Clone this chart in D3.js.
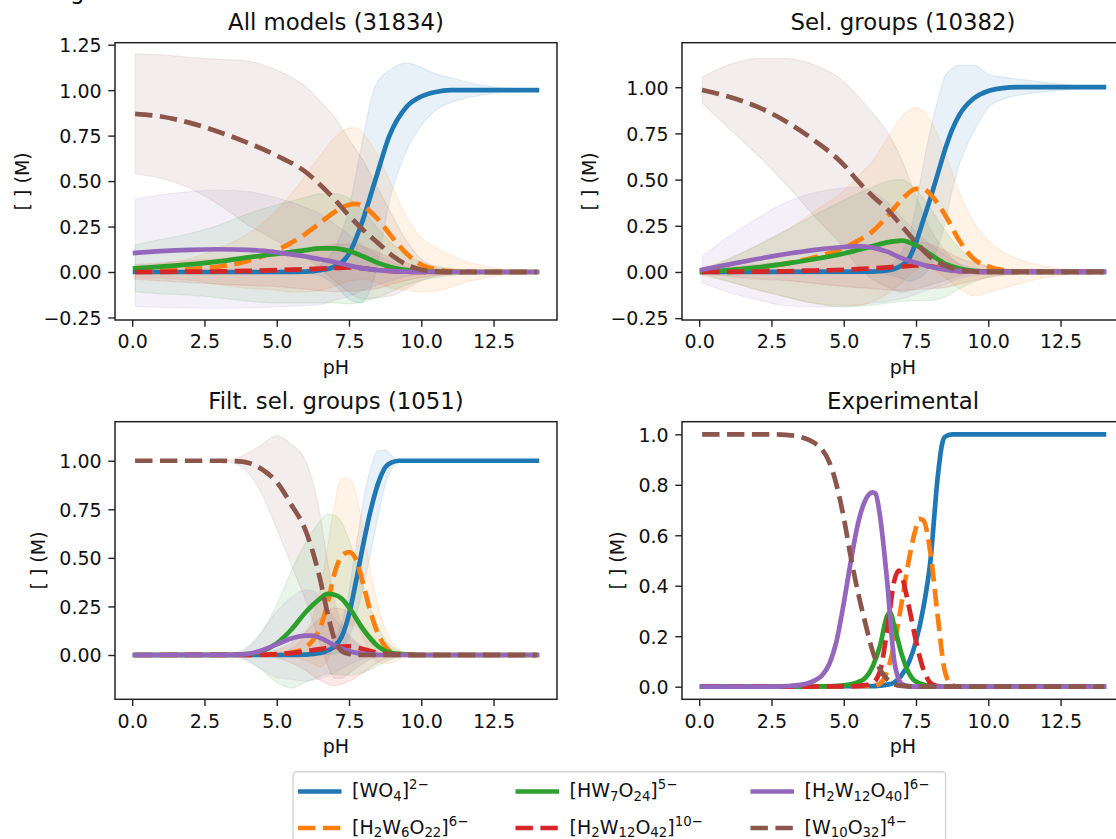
<!DOCTYPE html>
<html>
<head>
<meta charset="utf-8">
<script src="https://cdn.jsdelivr.net/npm/d3@7"></script>
<style>
body { margin: 0; background: #fff; }
svg { display: block; font-family: "DejaVu Sans", sans-serif; }
</style>
</head>
<body>
<svg width="1116" height="839"></svg>
<script>
// species, in plotting / legend order
const species = [
    "[WO_{4}]^{2−}",
    "[H_{2}W_{6}O_{22}]^{6−}",
    "[HW_{7}O_{24}]^{5−}",
    "[H_{2}W_{12}O_{42}]^{10−}",
    "[H_{2}W_{12}O_{40}]^{6−}",
    "[W_{10}O_{32}]^{4−}"
];
const colors = ["#1f77b4", "#ff7f0e", "#2ca02c", "#d62728", "#9467bd", "#8c564b"];
const dashed = [false, true, false, true, false, true];

const titles = ["All models (31834)", "Sel. groups (10382)", "Filt. sel. groups (1051)", "Experimental"];
const xTicks = [0, 2.5, 5, 7.5, 10, 12.5];
const yTicksModel = [-0.25, 0, 0.25, 0.5, 0.75, 1, 1.25];
const yTicksExp = [0, 0.2, 0.4, 0.6, 0.8, 1.0];

// [pH, mean, sd]  -- All models
const allWO4 = [[0.1,0,0],[5,0,0.003],[6,0.002,0.01],[6.5,0.01,0.03],[7,0.03,0.1],[7.5,0.1,0.25],[7.9,0.25,0.42],[8.4,0.5,0.52],[8.9,0.75,0.36],[9.5,0.91,0.24],[10,0.965,0.16],[10.5,0.99,0.1],[11,1,0.07],[12,1,0.03],[13,1,0.01],[14,1,0.005]];
const allH2W6 = [[0.1,0,0.03],[1,0.005,0.04],[2,0.015,0.06],[3,0.03,0.1],[4,0.06,0.15],[5,0.12,0.22],[5.5,0.16,0.27],[6,0.21,0.32],[6.5,0.27,0.37],[7,0.33,0.41],[7.5,0.37,0.42],[7.75,0.375,0.42],[8,0.36,0.4],[8.5,0.29,0.35],[9,0.19,0.28],[9.5,0.1,0.2],[10,0.04,0.15],[10.5,0.015,0.12],[11,0.005,0.09],[11.5,0.002,0.06],[12,0,0.04],[13,0,0.015],[14,0,0.005]];
const allHW7 = [[0.1,0.02,0.13],[1,0.03,0.15],[2,0.042,0.17],[3,0.058,0.2],[4,0.08,0.24],[5,0.1,0.27],[6,0.12,0.29],[6.5,0.13,0.3],[7,0.13,0.3],[7.5,0.115,0.29],[8,0.085,0.25],[8.5,0.05,0.19],[9,0.025,0.13],[9.5,0.01,0.08],[10,0.004,0.05],[11,0,0.02],[12,0,0.005],[14,0,0]];
const allH2W12O42 = [[0.1,0,0.04],[2,0.002,0.06],[3,0.003,0.07],[4,0.006,0.08],[5,0.01,0.09],[6,0.015,0.11],[7,0.022,0.13],[7.5,0.025,0.13],[8,0.02,0.12],[8.5,0.01,0.1],[9,0.004,0.07],[10,0,0.03],[11,0,0.01],[12,0,0.003],[14,0,0]];
const allH2W12O40 = [[0.1,0.105,0.295],[1,0.115,0.31],[2,0.122,0.32],[3,0.125,0.325],[4,0.122,0.32],[5,0.108,0.3],[6,0.085,0.27],[6.5,0.07,0.25],[7,0.055,0.21],[7.5,0.035,0.17],[8,0.02,0.12],[8.5,0.01,0.08],[9,0.005,0.05],[9.5,0.002,0.025],[10,0,0.01],[11,0,0.003],[14,0,0]];
const allW10 = [[0.1,0.87,0.33],[1,0.855,0.34],[2,0.82,0.36],[3,0.77,0.4],[4,0.71,0.45],[5,0.64,0.47],[6,0.55,0.47],[6.5,0.48,0.46],[7,0.4,0.45],[7.5,0.31,0.42],[8,0.23,0.38],[8.5,0.16,0.3],[9,0.09,0.22],[9.5,0.04,0.13],[10,0.012,0.06],[10.5,0.003,0.025],[11,0,0.01],[12,0,0.002],[14,0,0]];

// Sel. groups
const selWO4 = [[0.1,0,0],[6,0.002,0.005],[6.5,0.008,0.02],[7,0.035,0.07],[7.25,0.07,0.12],[7.5,0.16,0.2],[7.75,0.28,0.3],[8,0.4,0.37],[8.25,0.53,0.4],[8.5,0.66,0.4],[8.75,0.77,0.33],[9,0.85,0.27],[9.5,0.94,0.18],[10,0.98,0.09],[10.5,0.995,0.06],[11,1,0.045],[12,1,0.025],[13,1,0.01],[14,1,0.005]];
const selH2W6 = [[0.1,0,0.02],[1,0.008,0.06],[2,0.022,0.12],[3,0.045,0.18],[4,0.08,0.25],[5,0.13,0.31],[5.5,0.17,0.35],[6,0.22,0.38],[6.5,0.3,0.42],[7,0.39,0.45],[7.5,0.45,0.44],[7.75,0.45,0.42],[8,0.42,0.4],[8.5,0.31,0.34],[9,0.17,0.26],[9.5,0.07,0.2],[10,0.03,0.14],[10.5,0.01,0.1],[11,0.003,0.07],[12,0,0.03],[13,0,0.01],[14,0,0.005]];
const selHW7 = [[0.1,0,0.01],[1,0.01,0.06],[2,0.025,0.12],[3,0.045,0.18],[4,0.07,0.24],[5,0.1,0.29],[6,0.14,0.32],[6.5,0.16,0.33],[7,0.17,0.33],[7.5,0.145,0.3],[8,0.095,0.25],[8.5,0.045,0.18],[9,0.018,0.11],[9.5,0.006,0.06],[10,0.002,0.03],[11,0,0.01],[12,0,0.003],[14,0,0]];
const selH2W12O42 = [[0.1,0,0.005],[2,0.002,0.04],[3,0.004,0.05],[4,0.008,0.07],[5,0.012,0.09],[6,0.02,0.11],[7,0.03,0.13],[7.5,0.035,0.13],[8,0.03,0.12],[8.5,0.015,0.1],[9,0.005,0.07],[10,0,0.03],[11,0,0.01],[12,0,0.003],[14,0,0]];
const selH2W12O40 = [[0.1,0.012,0.07],[1,0.04,0.15],[2,0.07,0.22],[3,0.097,0.28],[4,0.12,0.31],[5,0.135,0.32],[5.5,0.14,0.32],[6,0.132,0.3],[6.5,0.11,0.27],[7,0.075,0.22],[7.5,0.05,0.17],[8,0.028,0.12],[8.5,0.012,0.08],[9,0.005,0.04],[9.5,0.002,0.02],[10,0,0.01],[11,0,0.002],[14,0,0]];
const selW10 = [[0.1,0.985,0.07],[1,0.95,0.17],[2,0.895,0.26],[3,0.815,0.34],[4,0.71,0.41],[5,0.58,0.45],[5.5,0.49,0.46],[6,0.41,0.45],[6.5,0.34,0.42],[7,0.25,0.36],[7.5,0.16,0.25],[8,0.08,0.15],[8.5,0.035,0.08],[9,0.01,0.03],[9.5,0.003,0.01],[10,0,0.005],[14,0,0]];

// Filt. sel. groups
const filtWO4 = [[0.1,0,0],[5,0,0],[6,0.002,0.003],[6.5,0.01,0.01],[7,0.045,0.04],[7.25,0.095,0.07],[7.5,0.21,0.12],[7.75,0.385,0.18],[8,0.575,0.22],[8.25,0.745,0.22],[8.5,0.88,0.17],[8.75,0.965,0.09],[9,0.993,0.03],[9.25,1,0.008],[10,1,0],[14,1,0]];
const filtH2W6 = [[0.1,0,0],[4.5,0.001,0.005],[5,0.004,0.01],[5.5,0.012,0.02],[6,0.04,0.07],[6.25,0.075,0.12],[6.5,0.14,0.2],[6.75,0.26,0.29],[7,0.42,0.36],[7.25,0.51,0.4],[7.5,0.53,0.38],[7.75,0.49,0.34],[8,0.36,0.28],[8.25,0.22,0.21],[8.5,0.11,0.15],[8.75,0.045,0.09],[9,0.012,0.05],[9.5,0.002,0.01],[10,0,0],[14,0,0]];
const filtHW7 = [[0.1,0,0],[3.5,0.001,0.005],[4,0.005,0.03],[4.5,0.02,0.1],[5,0.06,0.2],[5.5,0.13,0.3],[6,0.22,0.36],[6.5,0.29,0.4],[6.75,0.315,0.41],[7,0.31,0.41],[7.25,0.29,0.39],[7.5,0.245,0.35],[8,0.13,0.22],[8.5,0.045,0.1],[9,0.01,0.03],[9.5,0.002,0.01],[10,0,0],[14,0,0]];
const filtH2W12O42 = [[0.1,0,0],[4,0.001,0.003],[5,0.005,0.02],[5.5,0.01,0.05],[6,0.02,0.1],[6.5,0.03,0.16],[7,0.042,0.2],[7.5,0.045,0.18],[8,0.03,0.12],[8.5,0.012,0.05],[9,0.003,0.015],[10,0,0],[14,0,0]];
const filtH2W12O40 = [[0.1,0,0],[3.5,0.001,0.01],[4,0.006,0.04],[4.5,0.025,0.1],[5,0.055,0.17],[5.5,0.085,0.21],[6,0.1,0.235],[6.25,0.1,0.23],[6.5,0.088,0.21],[7,0.05,0.14],[7.5,0.02,0.07],[8,0.006,0.025],[8.5,0.001,0.005],[9,0,0],[14,0,0]];
const filtW10 = [[0.1,1,0],[3,1,0],[3.5,0.998,0.01],[4,0.99,0.05],[4.5,0.955,0.13],[5,0.89,0.24],[5.5,0.775,0.31],[6,0.64,0.36],[6.25,0.53,0.36],[6.5,0.39,0.33],[6.75,0.22,0.27],[7,0.08,0.2],[7.25,0.02,0.14],[7.5,0.005,0.1],[8,0,0.04],[8.5,0,0.01],[9,0,0],[14,0,0]];

// Experimental  [pH, fraction]
const expWO4 = [[0.1,0],[6,0.002],[6.25,0.004],[6.5,0.008],[6.75,0.017],[7,0.045],[7.25,0.095],[7.5,0.18],[7.75,0.31],[8,0.5],[8.25,0.83],[8.4,0.96],[8.5,0.99],[8.75,1],[14,1]];
const expH2W6 = [[0.1,0],[6,0.003],[6.25,0.012],[6.5,0.06],[6.75,0.17],[7,0.33],[7.25,0.5],[7.5,0.63],[7.6,0.665],[7.75,0.66],[8,0.53],[8.25,0.28],[8.5,0.06],[8.75,0.005],[9,0],[14,0]];
const expHW7 = [[0.1,0],[4.5,0.001],[5,0.005],[5.5,0.018],[5.75,0.035],[6,0.08],[6.25,0.16],[6.5,0.28],[6.6,0.295],[6.75,0.24],[7,0.13],[7.25,0.055],[7.5,0.02],[8,0.003],[8.5,0],[14,0]];
const expH2W12O42 = [[0.1,0],[5,0.001],[5.5,0.003],[5.75,0.006],[6,0.015],[6.25,0.06],[6.5,0.22],[6.75,0.42],[6.9,0.46],[7,0.44],[7.25,0.32],[7.5,0.18],[7.75,0.07],[8,0.015],[8.25,0.002],[8.5,0],[14,0]];
const expH2W12O40 = [[0.1,0],[2.5,0],[3,0.002],[3.5,0.007],[4,0.025],[4.25,0.045],[4.5,0.09],[4.75,0.18],[5,0.33],[5.25,0.5],[5.5,0.65],[5.75,0.74],[6,0.77],[6.1,0.765],[6.25,0.68],[6.5,0.42],[6.75,0.1],[7,0.012],[7.25,0.002],[7.5,0],[14,0]];
const expW10 = [[0.1,1],[2.5,1],[3,0.998],[3.5,0.99],[4,0.965],[4.25,0.94],[4.5,0.89],[4.75,0.8],[5,0.67],[5.25,0.51],[5.5,0.37],[5.75,0.25],[6,0.14],[6.25,0.07],[6.5,0.03],[6.75,0.01],[7,0.003],[7.5,0],[14,0]];

const panels = [
    {title: titles[0], series: [allWO4, allH2W6, allHW7, allH2W12O42, allH2W12O40, allW10],
     left: 115, right: 557, top: 42.7, bottom: 320, yDomain: [-0.264, 1.261], yTicks: yTicksModel, fmt: ".2f"},
    {title: titles[1], series: [selWO4, selH2W6, selHW7, selH2W12O42, selH2W12O40, selW10],
     left: 682, right: 1124, top: 42.7, bottom: 320, yDomain: [-0.26, 1.241], yTicks: yTicksModel, fmt: ".2f"},
    {title: titles[2], series: [filtWO4, filtH2W6, filtHW7, filtH2W12O42, filtH2W12O40, filtW10],
     left: 115, right: 557, top: 421.7, bottom: 699.3, yDomain: [-0.228, 1.201], yTicks: yTicksModel, fmt: ".2f"},
    {title: titles[3], series: [expWO4, expH2W6, expHW7, expH2W12O42, expH2W12O40, expW10],
     left: 682, right: 1124, top: 421.7, bottom: 699.3, yDomain: [-0.05, 1.05], yTicks: yTicksExp, fmt: ".1f"}
];

const svg = d3.select("svg");
svg.append("rect").attr("width", 1116).attr("height", 839).attr("fill", "#fff");

// cut-off text fragment at the very top of the figure
svg.append("text").attr("x", 70).attr("y", -1.5).attr("font-size", 23).text("g");

const lw = 4.7;
const tickLen = 6.7;
const tickPad = 6.7;

function drawPanel(p, pi) {
    const x = d3.scaleLinear().domain([-0.595, 14.695]).range([p.left, p.right]);
    const y = d3.scaleLinear().domain(p.yDomain).range([p.bottom, p.top]);

    const clipId = "clip" + pi;
    svg.append("clipPath").attr("id", clipId)
        .append("rect")
        .attr("x", p.left).attr("y", p.top)
        .attr("width", p.right - p.left).attr("height", p.bottom - p.top);

    const g = svg.append("g").attr("clip-path", `url(#${clipId})`);

    // std bands
    p.series.forEach((s, i) => {
        if (s[0].length < 3) return;
        const area = d3.area()
            .x(d => x(d[0]))
            .y0(d => y(d[1] - d[2]))
            .y1(d => y(d[1] + d[2]))
            .curve(d3.curveMonotoneX);
        g.append("path")
            .attr("d", area(s))
            .attr("fill", colors[i])
            .attr("fill-opacity", 0.1)
            .attr("stroke", colors[i])
            .attr("stroke-opacity", 0.1)
            .attr("stroke-width", 1.2);
    });

    // mean lines
    const line = d3.line()
        .x(d => x(d[0]))
        .y(d => y(d[1]))
        .curve(d3.curveMonotoneX);
    p.series.forEach((s, i) => {
        g.append("path")
            .attr("d", line(s))
            .attr("fill", "none")
            .attr("stroke", colors[i])
            .attr("stroke-width", lw)
            .attr("stroke-linejoin", "round")
            .attr("stroke-linecap", dashed[i] ? "butt" : "square")
            .attr("stroke-dasharray", dashed[i] ? "17.4,7.5" : null);
    });

    // axes
    const yTicks = p.yTicks.filter(v => v >= p.yDomain[0] && v <= p.yDomain[1]);
    const yAxis = svg.append("g")
        .attr("transform", `translate(${p.left},0)`)
        .call(d3.axisLeft(y).tickValues(yTicks).tickFormat(d3.format(p.fmt))
            .tickSize(tickLen).tickPadding(tickPad));
    const xAxis = svg.append("g")
        .attr("transform", `translate(0,${p.bottom})`)
        .call(d3.axisBottom(x).tickValues(xTicks).tickFormat(d3.format(".1f"))
            .tickSize(tickLen).tickPadding(tickPad));

    [xAxis, yAxis].forEach(a => {
        a.select(".domain").remove();
        a.attr("font-family", null).attr("font-size", null);
        a.selectAll(".tick line").attr("stroke", "#222").attr("stroke-width", 1.4);
        a.selectAll(".tick text").attr("fill", "#111").attr("font-size", 19);
    });
    xAxis.selectAll(".tick text").attr("y", 0).attr("dy", 28.3);
    yAxis.selectAll(".tick text").attr("dy", "0.36em");

    // frame
    svg.append("rect")
        .attr("x", p.left).attr("y", p.top)
        .attr("width", p.right - p.left).attr("height", p.bottom - p.top)
        .attr("fill", "none").attr("stroke", "#222").attr("stroke-width", 1.5);

    // labels
    let widest = 0;
    yAxis.selectAll(".tick text").each(function () {
        widest = Math.max(widest, this.getComputedTextLength());
    });
    const ylx = p.left - tickLen - tickPad - widest - 21.6;
    const ylyc = (p.top + p.bottom) / 2;
    svg.append("text")
        .attr("transform", `translate(${ylx},${ylyc}) rotate(-90)`)
        .attr("text-anchor", "middle")
        .attr("dominant-baseline", "central")
        .attr("font-size", 19).attr("fill", "#111")
        .text("[ ] (M)");

    svg.append("text")
        .attr("x", (p.left + p.right) / 2).attr("y", p.bottom + 54)
        .attr("text-anchor", "middle")
        .attr("font-size", 19).attr("fill", "#111")
        .text("pH");

    svg.append("text")
        .attr("x", (p.left + p.right) / 2).attr("y", p.top - 13)
        .attr("text-anchor", "middle")
        .attr("font-size", 22.8).attr("fill", "#111")
        .text(p.title);
}

panels.forEach(drawPanel);

// label with _{sub} and ^{sup}
function richText(sel, str) {
    const re = /([_^])\{([^}]*)\}|([^_^]+)/g;
    let m, cur = 0;
    while ((m = re.exec(str))) {
        if (m[3]) {
            sel.append("tspan").attr("dy", -cur).text(m[3]);
            cur = 0;
        } else {
            const s = m[1] === "_" ? 3.6 : -8;
            sel.append("tspan").attr("dy", s - cur).attr("font-size", 13.3).text(m[2]);
            cur = s;
        }
    }
}

// legend
const legend = svg.append("g");
legend.append("rect")
    .attr("x", 293).attr("y", 771.7)
    .attr("width", 652.6).attr("height", 90)
    .attr("rx", 4)
    .attr("fill", "#fff").attr("fill-opacity", 0.8)
    .attr("stroke", "#d6d6d6").attr("stroke-width", 1.5);

const colX = [298, 515.5, 750.5];
const rowY = [791.5, 828];
species.forEach((name, i) => {
    const c = Math.floor(i / 2), r = i % 2;
    const hx = colX[c], hy = rowY[r];
    legend.append("line")
        .attr("x1", hx).attr("x2", hx + 43.5)
        .attr("y1", hy).attr("y2", hy)
        .attr("stroke", colors[i]).attr("stroke-width", lw)
        .attr("stroke-dasharray", dashed[i] ? "17.4,7.5" : null);
    const t = legend.append("text")
        .attr("x", hx + 54).attr("y", hy + 5.5)
        .attr("font-size", 19).attr("fill", "#111");
    richText(t, name);
});
</script>
</body>
</html>
